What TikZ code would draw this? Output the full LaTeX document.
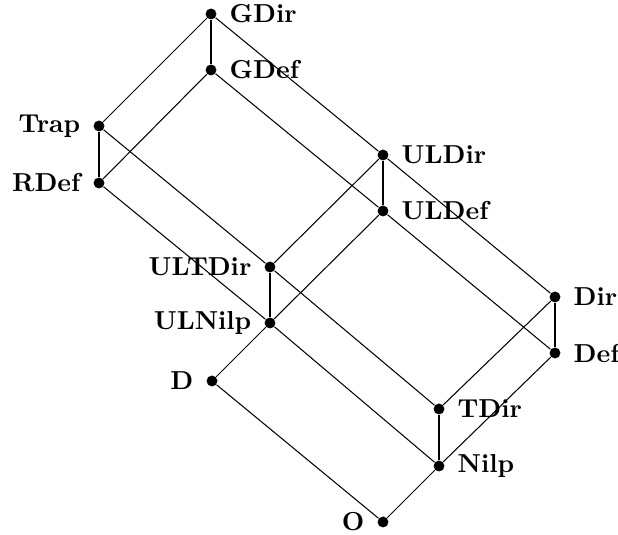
\documentclass[tikz,border=0pt]{standalone}
\usepackage{amsmath}
\usepackage{tikz}
\usetikzlibrary{calc}
\tikzset{%
  latnode/.style={circle, fill=black, inner sep=0pt, minimum size=4.2pt},
  latlabel/.style={font=\bfseries, inner sep=2pt},
  latedge/.style={line width=0.4pt}
}

\begin{document}
\begin{tikzpicture}[x=0.385pt, y=-0.385pt]
  \useasboundingbox (0,0) rectangle (618,535);

\foreach \nm / \x / \y / \side in {GDir/211/14/right, GDef/211/70/right,
  Trap/99/126/left, RDef/99/183/left, ULDir/383/155/right, ULDef/383/211/right,
  ULTDir/270/267/left, ULNilp/270/323/left, Dir/555/297/right, Def/555/353/right,
  D/212/381/left, TDir/439/409/right, Nilp/439/466/right, O/383/522/left}{
  \node [latnode] (\nm) at (\x, \y) {};
  \node [latlabel, \side=5pt] (l\nm) at (\nm) {\nm};
}

% cover relations
\foreach \a / \b in {GDir/GDef, GDir/Trap, GDir/ULDir, GDef/RDef, GDef/ULDef,
  Trap/RDef, Trap/ULTDir, RDef/ULNilp, ULDir/ULDef, ULDir/ULTDir, ULDef/ULNilp,
  ULTDir/ULNilp, ULTDir/TDir, ULNilp/Nilp, ULDir/Dir, ULDef/Def, Dir/Def,
  Dir/TDir, Def/Nilp, TDir/Nilp, ULNilp/D, D/O, Nilp/O}{
  \draw [latedge] (\a) -- (\b);
}

\end{tikzpicture}
\end{document}
